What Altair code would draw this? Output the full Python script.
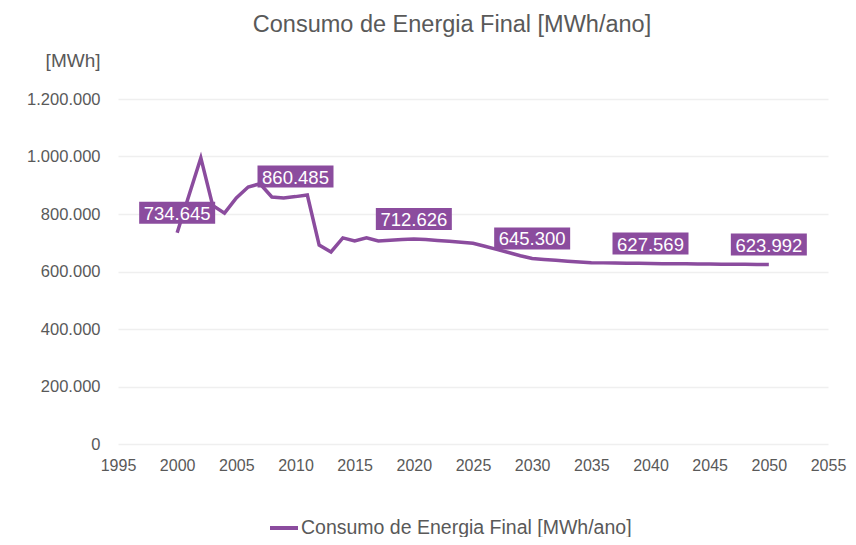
import altair as alt
import pandas as pd

# ---- data ----
years = list(range(2000, 2051))
consumo = [
    734645, 865000, 995000, 830000, 803000, 856000, 894000, 905000, 859000, 856000,
    860485, 866000, 692000, 668000, 717000, 706000, 717000, 706000, 709000, 711000,
    712626, 711000, 708000, 705000, 702000, 698000, 688000, 677000, 666000, 655000,
    645300, 642000, 639000, 636000, 633000, 630500, 630000, 629500, 629000, 628500,
    627569, 627300, 627000, 626700, 626400, 626000, 625600, 625200, 624800, 624400,
    623992,
]
label_years = [2000, 2010, 2020, 2030, 2040, 2050]
serie = "Consumo de Energia Final [MWh/ano]"
x_ticks = list(range(1995, 2056, 5))
y_ticks = [0, 200000, 400000, 600000, 800000, 1000000, 1200000]

PURPLE = "#8B4C9E"
TXT = "#595959"
FONT = "Liberation Sans"

df = pd.DataFrame({"ano": years, "valor": consumo, "serie": serie})
lab = df[df["ano"].isin(label_years)].copy()
lab["texto"] = lab["valor"].map(lambda v: f"{v:,}".replace(",", "."))

xs = alt.Scale(domain=[1995, 2055], nice=False)
ys = alt.Scale(domain=[0, 1200000], nice=False)

x_enc = alt.X("ano:Q", scale=xs, axis=alt.Axis(
    values=x_ticks, format="d", title=None, grid=False, domain=False, ticks=False,
    labelFlush=False, labelOverlap=False,
    labelFontSize=16, labelColor=TXT, labelFont=FONT, labelPadding=13))
y_enc = alt.Y("valor:Q", scale=ys, axis=alt.Axis(
    values=y_ticks, title="[MWh]", titleAngle=0, titleAlign="right", titleBaseline="middle",
    titleX=-18, titleY=-39, titleFontSize=19, titleFontWeight="normal", titleColor=TXT,
    titleFont=FONT,
    labelExpr="replace(format(datum.value, ','), /,/g, '.')",
    grid=True, gridColor="#EFEFEF", gridWidth=1.5, domain=False, ticks=False,
    labelFontSize=16.5, labelColor=TXT, labelFont=FONT, labelPadding=18))

line = alt.Chart(df).mark_line(strokeWidth=3.5).encode(
    x=x_enc, y=y_enc,
    color=alt.Color("serie:N", scale=alt.Scale(range=[PURPLE]), legend=alt.Legend(
        title=None, orient="none", legendX=150, legendY=413,
        symbolType="stroke", symbolSize=784, symbolStrokeWidth=4,
        labelFontSize=19.5, labelColor=TXT, labelFont=FONT, labelOffset=1,
        labelLimit=600)),
)

boxes = alt.Chart(lab).mark_rect(width=76, height=22, yOffset=-20, color=PURPLE).encode(
    x="ano:Q", y="valor:Q")
texts = alt.Chart(lab).mark_text(color="white", fontSize=18.5, font=FONT, yOffset=-19,
                                 baseline="middle").encode(
    x="ano:Q", y="valor:Q", text="texto:N")

chart = alt.layer(line, boxes, texts).properties(
    width=710, height=345,
    autosize=alt.AutoSizeParams(type="none"),
    padding={"left": 110, "top": 91, "right": 20, "bottom": 93},
    title=alt.Title(serie, fontSize=23.5, font=FONT, color=TXT, fontWeight="normal",
                    anchor="middle", frame="group", dx=-21, offset=15),
).configure_view(stroke=None)

chart.save("out.html", embed_options={"renderer": "svg", "actions": False})
